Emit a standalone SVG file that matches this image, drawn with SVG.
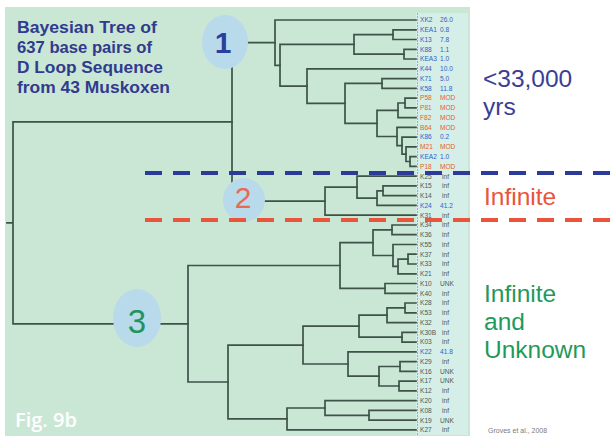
<svg xmlns="http://www.w3.org/2000/svg" width="611" height="438" viewBox="0 0 611 438">
<style>
.tree{fill:none;stroke:#3e5249;stroke-width:1.7;stroke-linecap:square}
.lb{font-family:"Liberation Sans",Arial,sans-serif;font-size:6.6px}
.g{fill:#4c5a55}.b{fill:#2f62c8}.o{fill:#e6602b}
.title{font-family:"Liberation Sans",Arial,sans-serif;font-weight:bold;font-size:16.5px;fill:#303b8e}
.big{font-family:"Liberation Sans",Arial,sans-serif;font-size:24.5px}
.circ{fill:#b9daea}
</style>
<rect x="0" y="0" width="611" height="438" fill="#ffffff"/>
<rect x="5" y="7" width="465" height="429" fill="#cae7d5"/>
<rect x="416" y="13" width="52" height="422" fill="#d6eee8"/>
<line x1="417.5" y1="13" x2="417.5" y2="435" stroke="#8fb0dc" stroke-width="1" stroke-dasharray="2 1"/>
<g id="title" class="title">
<text x="17" y="32.5" textLength="140" lengthAdjust="spacingAndGlyphs">Bayesian Tree of</text>
<text x="17" y="52.5" textLength="135" lengthAdjust="spacingAndGlyphs">637 base pairs of</text>
<text x="17" y="72.5" textLength="146" lengthAdjust="spacingAndGlyphs">D Loop Sequence</text>
<text x="17" y="93" textLength="153" lengthAdjust="spacingAndGlyphs">from 43 Muskoxen</text>
</g>
<g id="connectors" class="tree">
<path d="M7 222.8H13 M13 121.9V323.8 M13 121.9H232 M13 323.8H188"/>
<path d="M232 42.6V201.2 M232 42.6H275 M232 201.2H325"/>
<path d="M275 20V65.3 M275 20H416 M275 65.3H280"/>
<path d="M280 44.4V86.1 M280 44.4H354 M280 86.1H307"/>
<path d="M354 34.6V54.2 M354 34.6H393 M354 54.2H404"/>
<path d="M393 29.8V39.5 M393 29.8H416 M393 39.5H416"/>
<path d="M404 49.3V59 M404 49.3H416 M404 59H416"/>
<path d="M307 68.8V103.4 M307 68.8H416 M307 103.4H345"/>
<path d="M345 83.4V123.4 M345 83.4H382 M345 123.4H377"/>
<path d="M382 78.6V88.3 M382 78.6H416 M382 88.3H416"/>
<path d="M377 110.3V136.5 M377 110.3H398 M377 136.5H397"/>
<path d="M398 103V117.6 M398 103H405 M398 117.6H416"/>
<path d="M405 98.1V107.8 M405 98.1H416 M405 107.8H416"/>
<path d="M397 127.4V145.7 M397 127.4H416 M397 145.7H402"/>
<path d="M402 137.1V154.2 M402 137.1H416 M402 154.2H406"/>
<path d="M406 146.9V161.5 M406 146.9H416 M406 161.5H410"/>
<path d="M410 156.6V166.4 M410 156.6H416 M410 166.4H416"/>
<path d="M325 187.1V215.2 M325 187.1H357 M325 215.2H416"/>
<path d="M357 176.2V198.1 M357 176.2H416 M357 198.1H377"/>
<path d="M377 190.8V205.4 M377 190.8H383 M377 205.4H416"/>
<path d="M383 185.9V195.7 M383 185.9H416 M383 195.7H416"/>
<path d="M188 265.5V382 M188 265.5H340 M188 382H228"/>
<path d="M340 242.7V288.4 M340 242.7H373 M340 288.4H385"/>
<path d="M373 229.8V255.5 M373 229.8H392 M373 255.5H393"/>
<path d="M392 225V234.7 M392 225H416 M392 234.7H416"/>
<path d="M393 244.5V266.4 M393 244.5H416 M393 266.4H398"/>
<path d="M398 259.1V273.8 M398 259.1H408 M398 273.8H416"/>
<path d="M408 254.2V264 M408 254.2H416 M408 264H416"/>
<path d="M385 283.5V293.3 M385 283.5H416 M385 293.3H416"/>
<path d="M228 345.1V418.9 M228 345.1H303 M228 418.9H287"/>
<path d="M303 326.2V364 M303 326.2H359 M303 364H348"/>
<path d="M359 315.2V337.2 M359 315.2H387 M359 337.2H402"/>
<path d="M387 307.9V322.6 M387 307.9H405 M387 322.6H416"/>
<path d="M405 303V312.8 M405 303H416 M405 312.8H416"/>
<path d="M402 332.3V342.1 M402 332.3H416 M402 342.1H416"/>
<path d="M348 351.8V376.2 M348 351.8H416 M348 376.2H379"/>
<path d="M379 366.5V386 M379 366.5H400 M379 386H399"/>
<path d="M400 361.6V371.4 M400 361.6H416 M400 371.4H416"/>
<path d="M399 381.1V390.9 M399 381.1H416 M399 390.9H416"/>
<path d="M287 408V429.9 M287 408H325 M287 429.9H416"/>
<path d="M325 400.6V415.3 M325 400.6H416 M325 415.3H369"/>
<path d="M369 410.4V420.2 M369 410.4H416 M369 420.2H416"/>
</g>
<g id="clade1">
<ellipse class="circ" cx="225" cy="42" rx="23" ry="27"/>
<text x="223" y="53" text-anchor="middle" font-family="Liberation Sans, Arial, sans-serif" font-weight="bold" font-size="30" fill="#2b3f9c">1</text>
</g>
<g id="clade2">
<ellipse class="circ" cx="244" cy="200" rx="21" ry="22"/>
<text x="243" y="208" text-anchor="middle" font-family="Liberation Sans, Arial, sans-serif" font-size="30" fill="#e86a55">2</text>
</g>
<g id="clade3">
<ellipse class="circ" cx="137" cy="318" rx="24" ry="29"/>
<text x="137" y="333" text-anchor="middle" font-family="Liberation Sans, Arial, sans-serif" font-size="33" fill="#1f9460">3</text>
</g>
<g id="leaves" class="lb">
<text y="22.3" class="b"><tspan x="420">XK2</tspan><tspan x="440">26.0</tspan></text>
<text y="32.1" class="b"><tspan x="420">KEA1</tspan><tspan x="440">0.8</tspan></text>
<text y="41.8" class="b"><tspan x="420">K13</tspan><tspan x="440">7.8</tspan></text>
<text y="51.6" class="b"><tspan x="420">K88</tspan><tspan x="440">1.1</tspan></text>
<text y="61.3" class="b"><tspan x="420">KEA3</tspan><tspan x="440">1.0</tspan></text>
<text y="71.1" class="b"><tspan x="420">K44</tspan><tspan x="440">10.0</tspan></text>
<text y="80.9" class="b"><tspan x="420">K71</tspan><tspan x="440">5.0</tspan></text>
<text y="90.6" class="b"><tspan x="420">K58</tspan><tspan x="440">11.8</tspan></text>
<text y="100.4" class="o"><tspan x="420">P58</tspan><tspan x="440">MOD</tspan></text>
<text y="110.1" class="o"><tspan x="420">P81</tspan><tspan x="440">MOD</tspan></text>
<text y="119.9" class="o"><tspan x="420">F82</tspan><tspan x="440">MOD</tspan></text>
<text y="129.7" class="o"><tspan x="420">B64</tspan><tspan x="440">MOD</tspan></text>
<text y="139.4" class="b"><tspan x="420">K86</tspan><tspan x="440">0.2</tspan></text>
<text y="149.2" class="o"><tspan x="420">M21</tspan><tspan x="440">MOD</tspan></text>
<text y="158.9" class="b"><tspan x="420">KEA2</tspan><tspan x="440">1.0</tspan></text>
<text y="168.7" class="o"><tspan x="420">P18</tspan><tspan x="440">MOD</tspan></text>
<text y="178.5" class="g"><tspan x="420">K25</tspan><tspan x="442">inf</tspan></text>
<text y="188.2" class="g"><tspan x="420">K15</tspan><tspan x="442">inf</tspan></text>
<text y="198" class="g"><tspan x="420">K14</tspan><tspan x="442">inf</tspan></text>
<text y="207.7" class="b"><tspan x="420">K24</tspan><tspan x="440">41.2</tspan></text>
<text y="217.5" class="g"><tspan x="420">K31</tspan><tspan x="442">inf</tspan></text>
<text y="227.3" class="g"><tspan x="420">K34</tspan><tspan x="442">inf</tspan></text>
<text y="237" class="g"><tspan x="420">K36</tspan><tspan x="442">inf</tspan></text>
<text y="246.8" class="g"><tspan x="420">K55</tspan><tspan x="442">inf</tspan></text>
<text y="256.5" class="g"><tspan x="420">K37</tspan><tspan x="442">inf</tspan></text>
<text y="266.3" class="g"><tspan x="420">K33</tspan><tspan x="442">inf</tspan></text>
<text y="276.1" class="g"><tspan x="420">K21</tspan><tspan x="442">inf</tspan></text>
<text y="285.8" class="g"><tspan x="420">K10</tspan><tspan x="440">UNK</tspan></text>
<text y="295.6" class="g"><tspan x="420">K40</tspan><tspan x="442">inf</tspan></text>
<text y="305.3" class="g"><tspan x="420">K28</tspan><tspan x="442">inf</tspan></text>
<text y="315.1" class="g"><tspan x="420">K53</tspan><tspan x="442">inf</tspan></text>
<text y="324.9" class="g"><tspan x="420">K32</tspan><tspan x="442">inf</tspan></text>
<text y="334.6" class="g"><tspan x="420">K30B</tspan><tspan x="442">inf</tspan></text>
<text y="344.4" class="g"><tspan x="420">K03</tspan><tspan x="442">inf</tspan></text>
<text y="354.1" class="b"><tspan x="420">K22</tspan><tspan x="440">41.8</tspan></text>
<text y="363.9" class="g"><tspan x="420">K29</tspan><tspan x="442">inf</tspan></text>
<text y="373.7" class="g"><tspan x="420">K16</tspan><tspan x="440">UNK</tspan></text>
<text y="383.4" class="g"><tspan x="420">K17</tspan><tspan x="440">UNK</tspan></text>
<text y="393.2" class="g"><tspan x="420">K12</tspan><tspan x="442">inf</tspan></text>
<text y="402.9" class="g"><tspan x="420">K20</tspan><tspan x="442">inf</tspan></text>
<text y="412.7" class="g"><tspan x="420">K08</tspan><tspan x="442">inf</tspan></text>
<text y="422.5" class="g"><tspan x="420">K19</tspan><tspan x="440">UNK</tspan></text>
<text y="432.2" class="g"><tspan x="420">K27</tspan><tspan x="442">inf</tspan></text>
</g>
<g id="dividers">
<line x1="145" y1="173" x2="611" y2="173" stroke="#2c3a9a" stroke-width="4" stroke-dasharray="17 11"/>
<line x1="145" y1="220" x2="611" y2="220" stroke="#e8553a" stroke-width="4" stroke-dasharray="17 11"/>
</g>
<g id="legend" class="big">
<text x="483" y="87" fill="#3a3e94">&lt;33,000</text>
<text x="483" y="115" fill="#3a3e94">yrs</text>
<text x="484" y="205" fill="#e8553a">Infinite</text>
<text x="484" y="302" fill="#1f9a5a">Infinite</text>
<text x="484" y="330" fill="#1f9a5a">and</text>
<text x="484" y="358" fill="#1f9a5a">Unknown</text>
</g>
<text x="15" y="427" font-family="Open Sans, Liberation Sans, sans-serif" font-weight="600" font-size="20" fill="#ffffff">Fig. 9b</text>
<text x="488" y="433" font-family="Liberation Sans, Arial, sans-serif" font-size="7" fill="#7a7a7a">Groves et al., 2008</text>
</svg>
